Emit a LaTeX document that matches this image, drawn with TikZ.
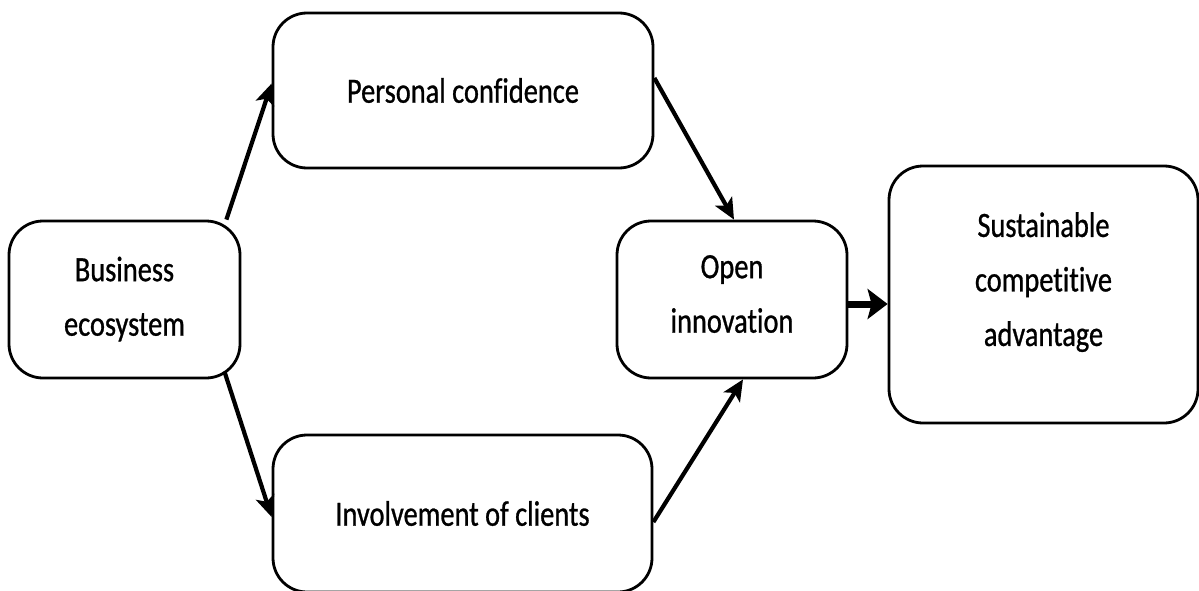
\documentclass[tikz,border=0pt]{standalone}
\usepackage{fontspec}
\setmainfont{Carlito}[FakeStretch=0.8,FakeBold=0.8,Ligatures={NoCommon}]
\usetikzlibrary{arrows.meta}
\tikzset{
  box/.style={draw=black, line width=2.8pt, rounded corners=34pt, fill=white,
    align=center, inner sep=0pt, font=\fontsize{35.5}{54.5}\selectfont},
  link/.style={line width=4.2pt, -{Stealth[length=21pt,width=19pt,inset=5pt]}},
  biglink/.style={line width=7pt, -{Stealth[length=20pt,width=30pt,inset=4pt]}}
}
\begin{document}
\begin{tikzpicture}[x=1pt,y=-1pt]
\clip (0,0) rectangle (1199,591);
\fill[white] (0,0) rectangle (1199,591);
\node[box, minimum width=231pt, minimum height=157pt] (bus) at (124.5,299.5) {\raisebox{2pt}[\height][\depth]{\begin{tabular}{@{}c@{}}Business\\ecosystem\end{tabular}}};
\node[box, minimum width=380pt, minimum height=155pt] (per) at (463,90.5) {Personal confidence};
\node[box, minimum width=379pt, minimum height=157pt] (inv) at (462.5,513.5) {Involvement of clients};
\node[box, minimum width=230pt, minimum height=157pt] (opn) at (732,299.5) {\raisebox{5pt}[\height][\depth]{\begin{tabular}{@{}c@{}}Open\\innovation\end{tabular}}};
\node[box, minimum width=309pt, minimum height=257pt] (sus) at (1043.5,294.5) {\raisebox{14pt}[\height][\depth]{\begin{tabular}{@{}c@{}}Sustainable\\competitive\\advantage\end{tabular}}};
\draw[link] ([xshift=-15pt]bus.north east) -- ([yshift=7pt]per.west);
\draw[link] ([xshift=-17pt,yshift=8pt]bus.south east) -- ([yshift=-3.5pt]inv.west);
\draw[link] ([yshift=12.5pt]per.east) -- ([xshift=2pt]opn.north);
\draw[link] ([yshift=-8.5pt]inv.east) -- ([xshift=11pt]opn.south);
\draw[biglink] ([yshift=-4.5pt]opn.east) -- ([yshift=-4.5pt]opn.east -| sus.west);
\end{tikzpicture}
\end{document}
